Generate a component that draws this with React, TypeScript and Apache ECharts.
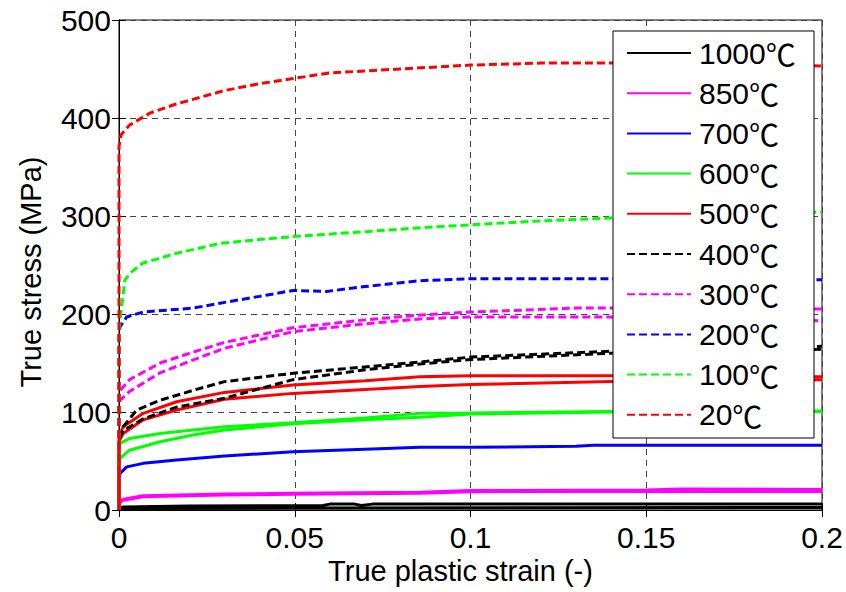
import React, { useEffect, useRef } from "react";
import * as echarts from "echarts";

type Pt = [number, number];

const xTicks = [0, 0.05, 0.1, 0.15, 0.2];
const yTicks = [0, 100, 200, 300, 400, 500];

const legendNames = ["1000℃", "850℃", "700℃", "600℃", "500℃", "400℃", "300℃", "200℃", "100℃", "20℃"];

const c1000a: Pt[] = [[0, 0], [0.001, 3], [0.02, 4], [0.058, 4.5], [0.06, 6], [0.067, 6], [0.069, 4.5], [0.072, 6], [0.2, 6]];
const c1000b: Pt[] = [[0, 0], [0.001, 1.5], [0.05, 2], [0.2, 2.5]];
const c850a: Pt[] = [[0, 0], [0.0003, 8], [0.0012, 10], [0.0069, 13.6], [0.03, 15.3], [0.0495, 16], [0.0856, 17], [0.1, 18.7], [0.15, 19], [0.2, 19]];
const c850b: Pt[] = [[0, 0], [0.0003, 9], [0.0012, 11], [0.0069, 14.5], [0.03, 16.2], [0.0495, 17], [0.0856, 18], [0.1, 19.8], [0.15, 20.5], [0.16, 21.5], [0.2, 21]];
const c700: Pt[] = [[0, 0], [0, 30], [0.0003, 37.4], [0.0022, 44], [0.0069, 47.6], [0.0164, 51], [0.03, 55], [0.0495, 59.5], [0.07, 62], [0.0856, 64], [0.1, 64], [0.13, 65], [0.135, 66], [0.2, 66]];
const c600a: Pt[] = [[0, 0], [0, 62], [0.0003, 68], [0.003, 73], [0.0117, 78], [0.021, 81.6], [0.03, 85], [0.0495, 89], [0.07, 94], [0.0856, 98.6], [0.1, 99], [0.14, 100.5], [0.2, 101]];
const c600b: Pt[] = [[0, 0], [0, 45], [0.0003, 52.7], [0.003, 61], [0.0117, 69.7], [0.021, 76.5], [0.03, 81.6], [0.0495, 88], [0.07, 92], [0.0856, 94.6], [0.1, 98], [0.14, 100], [0.2, 100.5]];
const c500a: Pt[] = [[0, 0], [0, 75], [0.0012, 85], [0.0069, 98.6], [0.0164, 110.5], [0.03, 120], [0.0495, 127.5], [0.07, 132], [0.0856, 136], [0.1, 137], [0.14, 137], [0.2, 136]];
const c500b: Pt[] = [[0, 0], [0, 70], [0.0012, 78], [0.0069, 92], [0.0164, 102], [0.03, 113], [0.0495, 119], [0.07, 123], [0.0856, 126], [0.1, 128], [0.14, 131], [0.2, 133]];
const c400a: Pt[] = [[0, 0], [0, 75], [0.0012, 85], [0.005, 102], [0.0117, 112], [0.021, 122], [0.03, 131], [0.0495, 139.5], [0.07, 146], [0.0856, 151], [0.1, 156], [0.14, 162], [0.17, 164], [0.2, 167]];
const c400b: Pt[] = [[0, 0], [0, 72], [0.0012, 81], [0.0069, 93], [0.0164, 105], [0.03, 114], [0.0495, 133], [0.07, 143], [0.0856, 149], [0.1, 153.5], [0.14, 160], [0.17, 162], [0.2, 164]];
const c300a: Pt[] = [[0, 0], [0, 115], [0.0003, 122], [0.003, 133], [0.0117, 150], [0.021, 161], [0.03, 171], [0.0495, 186], [0.07, 194], [0.0856, 199], [0.1, 202], [0.13, 206], [0.16, 206], [0.2, 205]];
const c300b: Pt[] = [[0, 0], [0, 105], [0.0003, 112], [0.003, 121], [0.0117, 140], [0.021, 153], [0.03, 165], [0.0495, 182], [0.07, 190], [0.0856, 195], [0.1, 197], [0.13, 197], [0.17, 197], [0.2, 193]];
const c200: Pt[] = [[0, 0], [0, 180], [0.0003, 187], [0.0022, 197], [0.0068, 202], [0.021, 206], [0.0287, 211], [0.04, 218], [0.0495, 224], [0.059, 223], [0.07, 228], [0.0856, 234], [0.1, 236], [0.15, 236], [0.2, 235]];
const c100: Pt[] = [[0, 0], [0, 180], [0.0003, 194], [0.0017, 235], [0.0036, 243], [0.0068, 252], [0.0164, 262], [0.0287, 272], [0.04, 276], [0.0495, 279], [0.07, 284], [0.0856, 288], [0.1, 291], [0.12, 295], [0.14, 298], [0.17, 301], [0.2, 304]];
const c20: Pt[] = [[0, 0], [0, 371], [0.0006, 383], [0.0031, 393], [0.0088, 405], [0.016, 414], [0.023, 421], [0.03, 428], [0.04, 435], [0.049, 440], [0.06, 446], [0.08, 450], [0.1, 454], [0.12, 456], [0.15, 456], [0.18, 455], [0.2, 453]];

const groups: { name: string; color: string; dashed: boolean; curves: Pt[][] }[] = [
  { name: "1000℃", color: "#000000", dashed: false, curves: [c1000a, c1000b] },
  { name: "850℃", color: "#ff00ff", dashed: false, curves: [c850a, c850b] },
  { name: "700℃", color: "#0000ff", dashed: false, curves: [c700] },
  { name: "600℃", color: "#00ff00", dashed: false, curves: [c600a, c600b] },
  { name: "500℃", color: "#ff0000", dashed: false, curves: [c500a, c500b] },
  { name: "400℃", color: "#000000", dashed: true, curves: [c400a, c400b] },
  { name: "300℃", color: "#ff00ff", dashed: true, curves: [c300a, c300b] },
  { name: "200℃", color: "#0000ff", dashed: true, curves: [c200] },
  { name: "100℃", color: "#00ff00", dashed: true, curves: [c100] },
  { name: "20℃", color: "#ff0000", dashed: true, curves: [c20] },
];

const FONT = "'Liberation Sans', Arial, 'Noto Sans CJK SC', sans-serif";
const CJK = "'Noto Sans CJK SC', 'Noto Sans CJK JP', sans-serif";

export default function App() {
  const ref = useRef<HTMLDivElement>(null);
  useEffect(() => {
    if (!ref.current) return;
    const chart = echarts.init(ref.current, undefined, { renderer: "svg" });
    const series: any[] = [];
    groups.forEach((g) => {
      g.curves.forEach((c) => {
        series.push({
          type: "line",
          name: g.name,
          data: c,
          showSymbol: false,
          symbol: "none",
          color: g.color,
          lineStyle: { color: g.color, width: 3, type: g.dashed ? [8, 4] : "solid" },
          z: 2,
        });
      });
    });
    const axisCommon = {
      axisLine: { show: true, lineStyle: { color: "#000", width: 1 } },
      axisTick: { show: true, inside: true, length: 7, lineStyle: { color: "#000" } },
    };
    chart.setOption({
      animation: false,
      textStyle: { fontFamily: FONT },
      grid: { left: 119, top: 20, right: 24, bottom: 82, show: true, borderColor: "#000", borderWidth: 1, backgroundColor: "#fff" },
      xAxis: [
        {
          type: "value",
          min: xTicks[0],
          max: xTicks[xTicks.length - 1],
          interval: 0.05,
          position: "bottom",
          ...axisCommon,
          axisLabel: { color: "#000", fontSize: 30, fontFamily: FONT, margin: 12 },
          splitLine: { show: true, lineStyle: { color: "#444", width: 1, type: [6, 5] } },
          name: "True plastic strain (-)",
          nameLocation: "middle",
          nameGap: 43,
          nameTextStyle: { color: "#000", fontSize: 29, fontFamily: FONT, padding: [0, 20, 0, 0] },
        },
        {
          type: "value",
          min: xTicks[0],
          max: xTicks[xTicks.length - 1],
          interval: 0.05,
          position: "top",
          ...axisCommon,
          axisLabel: { show: false },
          splitLine: { show: false },
        },
      ],
      yAxis: [
        {
          type: "value",
          min: yTicks[0],
          max: yTicks[yTicks.length - 1],
          interval: 100,
          position: "left",
          ...axisCommon,
          axisLabel: { color: "#000", fontSize: 30, fontFamily: FONT, margin: 8 },
          splitLine: { show: true, lineStyle: { color: "#444", width: 1, type: [6, 5] } },
          name: "True stress (MPa)",
          nameLocation: "middle",
          nameGap: 74,
          nameTextStyle: { color: "#000", fontSize: 29, fontFamily: FONT, padding: [0, 14, 0, 0] },
        },
        {
          type: "value",
          min: yTicks[0],
          max: yTicks[yTicks.length - 1],
          interval: 100,
          position: "right",
          ...axisCommon,
          axisLabel: { show: false },
          splitLine: { show: false },
        },
      ],
      legend: {
        show: true,
        orient: "vertical",
        left: 626,
        top: 38,
        padding: 0,
        itemWidth: 64,
        itemHeight: 14,
        itemGap: 10.2,
        selectedMode: false,
        z: 4,
        data: legendNames,
        itemStyle: { opacity: 0 },
        formatter: (name: string) => name.replace("℃", "{u|℃}"),
        textStyle: {
          color: "#000",
          fontSize: 30,
          fontFamily: FONT,
          lineHeight: 30,
          padding: [0, 0, 0, 3],
          rich: { u: { fontFamily: CJK, fontSize: 30, color: "#000", lineHeight: 30 } },
        },
      },
      graphic: [
        {
          type: "rect",
          z: 3,
          shape: { x: 613, y: 31, width: 201, height: 407 },
          style: { fill: "#fff", stroke: "#000", lineWidth: 1 },
        },
      ],
      series,
    });
    return () => chart.dispose();
  }, []);
  return <div ref={ref} style={{ position: "fixed", left: 0, top: 0, width: 846, height: 592, background: "#fff" }} />;
}
